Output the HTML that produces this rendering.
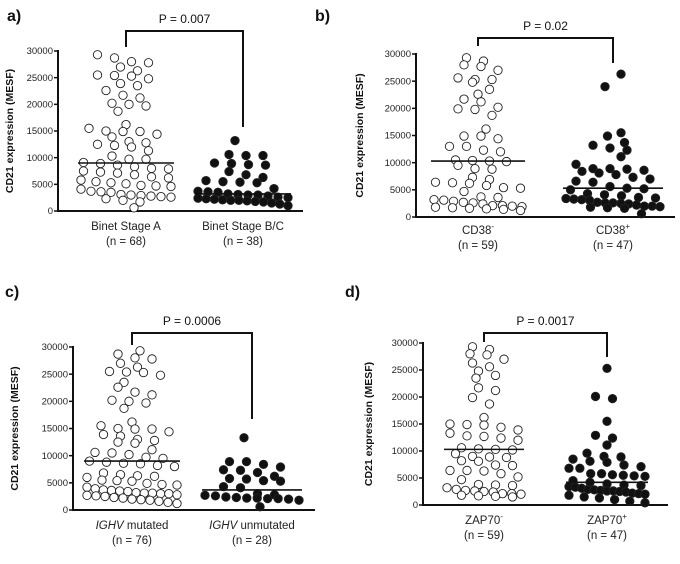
<!DOCTYPE html>
<html><head><meta charset="utf-8">
<style>
html,body{margin:0;padding:0;background:#fff;}
svg{display:block;font-family:"Liberation Sans",Arial,sans-serif;}
</style></head>
<body>
<svg id="chart" width="680" height="564" viewBox="0 0 680 564" xmlns="http://www.w3.org/2000/svg"></svg>
<script>
const yTicks = [0, 5000, 10000, 15000, 20000, 25000, 30000];
const yTickLabels = ["0", "5000", "10000", "15000", "20000", "25000", "30000"];

const aLabels = ["Binet Stage A", "Binet Stage B/C"];
const aCounts = ["(n = 68)", "(n = 38)"];
const aPValue = "P = 0.007";
const aMeans = [9000, 3200];
const aGroup1 = [29300,28700,28000,27800,27000,26300,25500,25400,25300,24800,23900,23500,22600,21700,21200,20200,20000,19700,18700,16200,15500,15000,14900,14900,14400,13900,13000,12800,12500,12300,12000,11300,10300,9700,9700,9100,8900,8600,8300,8000,7900,7500,7300,7100,6800,6400,6200,5800,5500,5300,5100,4800,4700,4600,4100,3700,3600,3500,3100,3000,2900,2800,2700,2600,2300,2000,1700,600];
const aGroup2 = [13200,10600,10400,10400,9000,8900,8700,8600,7400,6800,6300,5500,5300,5400,5700,4200,3700,3600,3500,3200,3100,3000,3000,2800,2600,2500,2400,2300,2200,2100,2000,2000,1900,1800,1700,1500,1300,1000];

const bLabels = ["CD38", "CD38"];
const bSup = ["-", "+"];
const bCounts = ["(n = 59)", "(n = 47)"];
const bPValue = "P = 0.02";
const bMeans = [10300, 5300];
const bGroup1 = [29300,28700,28000,27700,27000,25600,25300,25300,24800,23500,22600,21700,21200,20200,19900,19800,18700,16200,14900,14900,14400,13000,13000,12300,12000,10500,10400,10300,10200,9500,8900,8800,7300,6900,6400,6300,6200,5800,5400,5300,4700,3700,3600,3200,3100,2900,2700,2600,2400,2100,2100,2000,1900,1800,1700,1600,1500,1400,1200];
const bGroup2 = [26300,24000,15500,14900,13700,13200,12700,12300,11100,9700,8900,8900,8800,8600,8400,8100,7800,7300,7000,6600,6400,5600,5300,5200,5000,4300,4100,3900,3600,3500,3400,3300,3200,3100,2700,2600,2600,2500,2400,2200,2000,2000,1900,1800,1700,1600,600];

const cLabels = ["mutated", "unmutated"];
const cCounts = ["(n = 76)", "(n = 28)"];
const cPValue = "P = 0.0006";
const cMeans = [9000, 3700];
const cGroup1 = [29300,28700,28000,27800,27000,26300,25500,25400,25300,24800,23500,22600,21700,21200,20200,20000,19700,18700,16200,15500,15000,14900,14900,14400,13900,13600,13000,12800,12500,12300,11100,10600,10500,10200,9700,9500,9000,8800,8600,8500,8200,8000,6800,6500,6300,6200,6000,5500,5400,5300,4900,4700,4600,4200,3900,3700,3600,3500,3400,3200,3100,3100,3000,3000,2800,2700,2600,2500,2300,2200,2000,1900,1800,1600,1400,1200];
const cGroup2 = [13300,8900,8900,8400,7900,7400,7300,6900,6200,5800,5700,5400,5300,4300,4100,3000,2800,2700,2600,2400,2300,2200,2200,2100,2100,2000,1800,600];

const dLabels = ["ZAP70", "ZAP70"];
const dSup = ["-", "+"];
const dCounts = ["(n = 59)", "(n = 47)"];
const dPValue = "P = 0.0017";
const dMeans = [10300, 4200];
const dGroup1 = [29300,28800,28000,27800,27000,26300,25600,24800,24000,23500,21700,21200,19900,18700,16200,15000,14900,14800,14400,13900,13300,12800,12700,12400,12000,10600,10400,10300,10200,9500,9000,8900,8800,8200,8100,7400,7300,6400,6400,6300,5800,5200,4700,3800,3700,3600,3200,2900,2700,2600,2500,2400,2100,2100,2000,1800,1700,1600,1500];
const dGroup2 = [25300,20100,19700,15500,12900,12400,11100,9600,9000,8900,8500,8100,7900,7400,7100,6800,6800,5800,5800,5600,5500,5400,5300,4500,4200,3900,3700,3600,3400,3300,3100,2900,2800,2700,2600,2600,2500,2400,2200,2100,2000,1800,1500,1300,1000,700,400];

const NS = "http://www.w3.org/2000/svg";
const svg = document.getElementById("chart");
function mk(tag, attrs, parent, text){
  const e = document.createElementNS(NS, tag);
  for (const k in attrs) e.setAttribute(k, attrs[k]);
  if (text !== undefined) e.textContent = text;
  (parent || svg).appendChild(e);
  return e;
}
const R = 4.2;
// GraphPad-like layout: bin into rows, spread each row horizontally
function swarm(values, yScale, halfW){
  const sorted = values.slice().sort((a,b)=>b-a);
  const binPx = 9;
  const bins = {};
  sorted.forEach(v=>{
    const y = yScale(v);
    const b = Math.floor(y / binPx);
    (bins[b] = bins[b] || []).push({v:v, y:y});
  });
  const out = [];
  Object.keys(bins).forEach(b=>{
    const row = bins[b];
    const n = row.length;
    const sp = n > 1 ? Math.min(17, 2*halfW/(n-1)) : 0;
    const shift = (n === 1) ? ((parseInt(b)%3)-1)*8 : ((parseInt(b)%2)? 3 : -3);
    row.forEach((q,i)=>{
      out.push({x:(i-(n-1)/2)*sp + (n*sp < 2*halfW ? shift : 0), y:q.y});
    });
  });
  return out;
}
function panel(p){
  const g = mk("g", {});
  
  
  const yScale = v => p.y0 + (p.y30 - p.y0) * v / 30000;
  const letter = mk("text", {x:p.lx, y:p.ly, "font-size":16, "font-weight":"bold", fill:"#111"}, g, p.letter);
  
  
  const ya = mk("line", {x1:p.ax, y1:p.y30-1, x2:p.ax, y2:p.y0+1, stroke:"#111","stroke-width":2}, g);
  
  
  const xa = mk("line", {x1:p.ax-1, y1:p.y0, x2:p.axEnd, y2:p.y0, stroke:"#111","stroke-width":2}, g);
  
  
  yTicks.forEach((t,i)=>{
    const y = yScale(t);
    const tk = mk("line", {x1:p.ax-4, y1:y, x2:p.ax, y2:y, stroke:"#111","stroke-width":1.5}, g);
    
    
    const tl = mk("text", {x:p.ax-5, y:y+3.2, "font-size":9.5, "text-anchor":"end", fill:"#222"}, g, yTickLabels[i]);
    
    
  });
  const yt = mk("text", {x:0, y:0, "font-size":10.5, "font-weight":"bold", "text-anchor":"middle", fill:"#111",
    transform:`translate(${p.titleX},${(p.y0+p.y30)/2}) rotate(-90)`}, g, "CD21 expression (MESF)");
  
  
  const br = mk("path", {d:`M${p.cx[0]},${p.bl} V${p.bt} H${p.cx[1]} V${p.br}`, fill:"none", stroke:"#111","stroke-width":2}, g);
  
  
  const pt = mk("text", {x:(p.cx[0]+p.cx[1])/2, y:p.bt-8, "font-size":12, "text-anchor":"middle", fill:"#111"}, g, p.pval);
  
  
  [p.g1, p.g2].forEach((vals, gi)=>{
    const pts = swarm(vals, yScale, p.mw[gi]-3);
    pts.forEach(q=>{
      const c = mk("circle", {cx:p.cx[gi]+q.x, cy:q.y, r:R, fill: gi===0?"#fff":"#111", stroke:"#222","stroke-width":0.9}, g);
      
      
    });
    const m = mk("line", {x1:p.cx[gi]-p.mw[gi], x2:p.cx[gi]+p.mw[gi], y1:yScale(p.means[gi]), y2:yScale(p.means[gi]), stroke:"#111","stroke-width":1.6}, g);
    
    
    const lab = mk("text", {x:p.cx[gi], y:p.labY, "font-size":11.5, "text-anchor":"middle", fill:"#222"}, g);
    
    
    if (p.italic){
      mk("tspan", {"font-style":"italic"}, lab, "IGHV");
      mk("tspan", {}, lab, " " + p.labels[gi]);
    } else {
      mk("tspan", {}, lab, p.labels[gi]);
      if (p.sup) mk("tspan", {"font-size":8, dy:-5}, lab, p.sup[gi]);
    }
    const cn = mk("text", {x:p.cx[gi], y:p.labY+15, "font-size":11.5, "text-anchor":"middle", fill:"#222"}, g, p.counts[gi]);
    
    
  });
}
panel({name:"panel-a", letter:"a)", lx:7, ly:21, ax:58, axEnd:303, y0:211, y30:51, titleX:13,
  cx:[126,243], bt:31, bl:47, br:127, pval:aPValue, g1:aGroup1, g2:aGroup2, means:aMeans, mw:[48,48],
  labY:230, labels:aLabels, counts:aCounts});
panel({name:"panel-b", letter:"b)", lx:315, ly:21, ax:416, axEnd:675, y0:217, y30:54, titleX:363,
  cx:[478,613], bt:38, bl:46, br:63, pval:bPValue, g1:bGroup1, g2:bGroup2, means:bMeans, mw:[47,50],
  labY:234, labels:bLabels, sup:bSup, counts:bCounts});
panel({name:"panel-c", letter:"c)", lx:5, ly:297, ax:73, axEnd:315, y0:510, y30:347, titleX:18,
  cx:[132,252], bt:333, bl:345, br:419, pval:cPValue, g1:cGroup1, g2:cGroup2, means:cMeans, mw:[48,50],
  labY:529, labels:cLabels, italic:true, counts:cCounts});
panel({name:"panel-d", letter:"d)", lx:345, ly:297, ax:423, axEnd:668, y0:505, y30:343, titleX:372,
  cx:[484,607], bt:333, bl:342, br:357, pval:dPValue, g1:dGroup1, g2:dGroup2, means:dMeans, mw:[40,41],
  labY:524, labels:dLabels, sup:dSup, counts:dCounts});
</script>
</body></html>
